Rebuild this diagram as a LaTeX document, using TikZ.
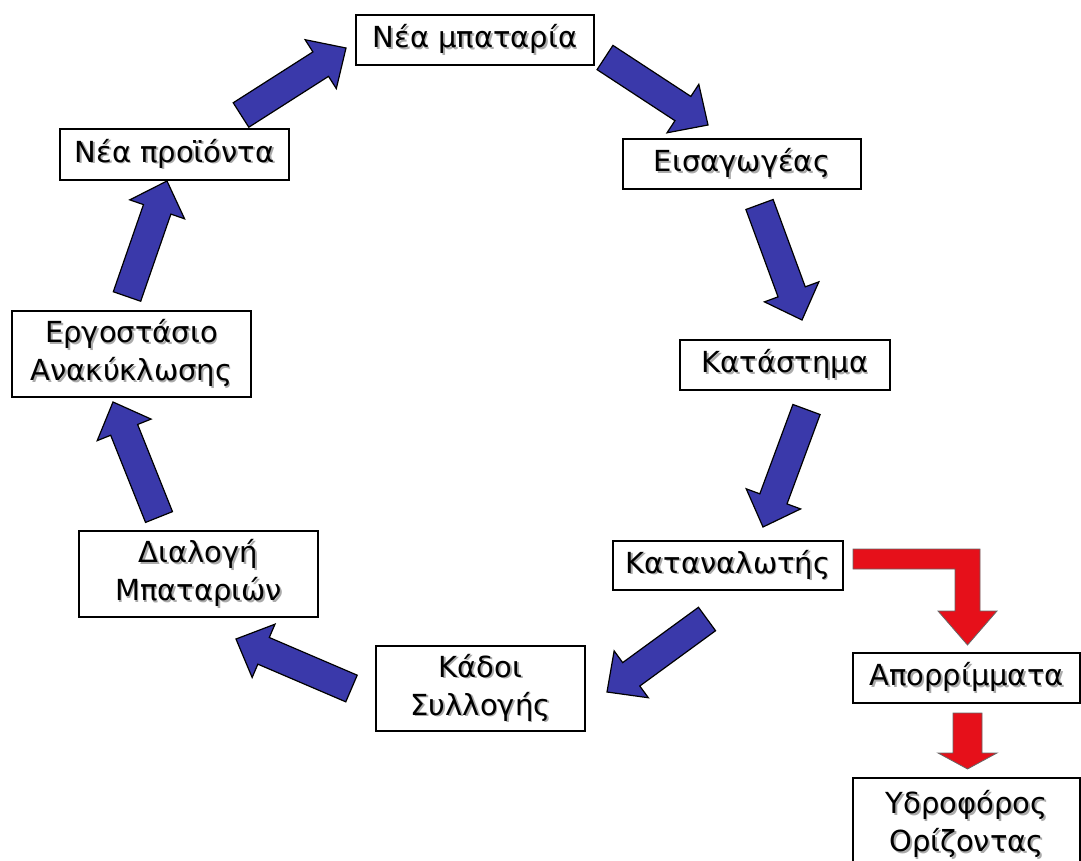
\documentclass[tikz,border=0pt]{standalone}
\usepackage{fontspec}
\setmainfont{DejaVu Sans}
\usepackage{tikz}
\usetikzlibrary{calc}
\definecolor{cycleblue}{RGB}{58,57,170}
\definecolor{wastered}{RGB}{230,16,26}
\definecolor{txtshadow}{RGB}{170,170,170}
\tikzset{
  flowbox/.style = {rectangle, draw=black, line width=1.3pt, fill=white,
                    align=center, inner sep=0pt,
                    font=\fontsize{29}{38}\selectfont},
  bluearrow/.style = {fill=cycleblue, draw=black, line width=1.2pt, line join=miter},
  redarrow/.style  = {fill=wastered, draw=black!60, line width=0.8pt, line join=miter}
}
% text with a soft grey drop shadow
\newcommand\shd[1]{\leavevmode\rlap{\hspace{1.8pt}\raisebox{-1.8pt}{\textcolor{txtshadow}{#1}}}#1}
% block arrow: style, tail, tip, half shaft, half head, head length
\newcommand\fatarrow[6]{%
  \draw[#1] ($(#2)!#4!90:(#3)$) -- ($(#3)!#6!(#2)!#4!90:(#3)$)
    -- ($(#3)!#6!(#2)!#5!90:(#3)$) -- (#3)
    -- ($(#3)!#6!(#2)!#5!-90:(#3)$) -- ($(#3)!#6!(#2)!#4!-90:(#3)$)
    -- ($(#2)!#4!-90:(#3)$) -- cycle;}
\begin{document}
\begin{tikzpicture}[x=1pt, y=-1pt]
\useasboundingbox (0,0) rectangle (1081,861);

% boxes
\node[flowbox, minimum width=238pt, minimum height=50pt] (nb)  at (475,40)      {\shd{Νέα μπαταρία}};
\node[flowbox, minimum width=238pt, minimum height=50pt] (eis) at (742,164)     {\shd{Εισαγωγέας}};
\node[flowbox, minimum width=210pt, minimum height=50pt] (kat) at (785,365)     {\shd{Κατάστημα}};
\node[flowbox, minimum width=230pt, minimum height=49pt] (kan) at (728,565.5)   {\shd{Καταναλωτής}};
\node[flowbox, minimum width=227pt, minimum height=50pt] (apo) at (966.5,678)   {\shd{Απορρίμματα}};
\node[flowbox, minimum width=227pt, minimum height=94pt] (ydr) at (966.5,825)   {\shd{Υδροφόρος}\\\shd{Ορίζοντας}};
\node[flowbox, minimum width=209pt, minimum height=85pt] (kad) at (480.5,688.5) {\shd{Κάδοι}\\\shd{Συλλογής}};
\node[flowbox, minimum width=239pt, minimum height=86pt] (dia) at (198.5,574)   {\shd{Διαλογή}\\\shd{Μπαταριών}};
\node[flowbox, minimum width=239pt, minimum height=86pt] (erg) at (131.5,354)   {\shd{Εργοστάσιο}\\\shd{Ανακύκλωσης}};
\node[flowbox, minimum width=229pt, minimum height=51pt] (nep) at (174.5,154.5) {\shd{Νέα προϊόντα}};

% arrow ends
\coordinate (t1) at (241,115);   \coordinate (h1) at (346,48);
\coordinate (t2) at (605,57.5);  \coordinate (h2) at (708,125);
\coordinate (t3) at (759.5,204.5); \coordinate (h3) at (802,320);
\coordinate (t4) at (806.5,409.5); \coordinate (h4) at (763,527);
\coordinate (t5) at (707,619);   \coordinate (h5) at (607,692);
\coordinate (t6) at (351.5,688.5); \coordinate (h6) at (236,639);
\coordinate (t7) at (159,517);   \coordinate (h7) at (113,402);
\coordinate (t8) at (127,296.5); \coordinate (h8) at (167,181);
\coordinate (t9) at (967.5,713); \coordinate (h9) at (967.5,769);

% recycling loop
\foreach \i in {1,...,8}
  \fatarrow{bluearrow}{t\i}{h\i}{14.5pt}{29pt}{30pt};

% into the waste
\draw[redarrow] (853,549) -- (980,549) -- (980,611) -- (997,611) -- (967.5,645)
  -- (938,611) -- (955,611) -- (955,569) -- (853,569) -- cycle;
\fatarrow{redarrow}{t9}{h9}{14.5pt}{29.5pt}{16pt}
\end{tikzpicture}
\end{document}
